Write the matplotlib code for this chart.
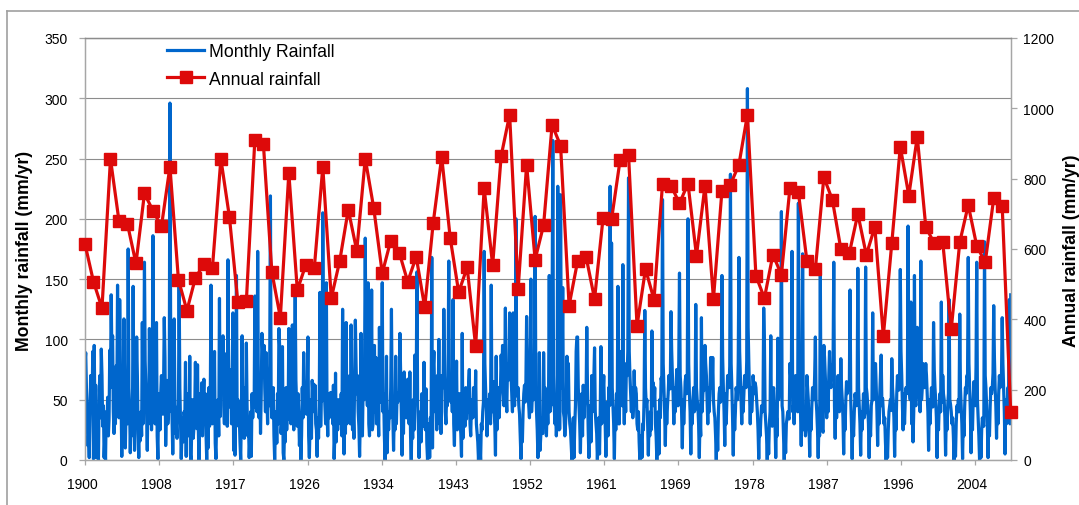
import numpy as np
import matplotlib
matplotlib.use('Agg')
import matplotlib.pyplot as plt
import matplotlib.transforms as mtransforms
from matplotlib.lines import Line2D

plt.rcParams['font.family'] = ['Liberation Sans', 'DejaVu Sans']

# annual totals, 1900..2009 (2009 = January only)
annual_years = list(range(1900, 2010))
annual_rain = [
    614, 507, 432, 856, 680, 671, 559, 758, 709, 664,
    834, 513, 425, 518, 557, 545, 856, 692, 448, 452,
    911, 900, 535, 405, 816, 483, 555, 546, 833, 460,
    567, 712, 595, 857, 716, 531, 624, 590, 507, 578,
    434, 674, 862, 632, 477, 548, 323, 773, 554, 864,
    982, 486, 840, 570, 668, 953, 894, 439, 565, 578,
    458, 688, 684, 852, 868, 382, 543, 456, 785, 780,
    730, 786, 581, 780, 458, 766, 783, 840, 982, 524,
    460, 584, 527, 773, 761, 567, 543, 804, 740, 600,
    588, 700, 583, 663, 352, 617, 891, 752, 919, 663,
    616, 619, 372, 619, 725, 609, 562, 744, 721, 137,
]

# monthly values Jan..Dec, one year per line, from Jan 1900 to Jan 2009
monthly_rain = [
    81, 89, 60, 45, 12, 20, 2, 35, 70, 55, 48, 90,          # 1900
    1, 95, 40, 62, 2, 30, 15, 0, 58, 70, 35, 92,
    70, 28, 45, 2, 18, 0, 40, 25, 52, 20, 34, 91,
    60, 137, 85, 103, 40, 22, 64, 30, 78, 50, 145, 42,
    35, 133, 80, 48, 3, 66, 25, 117, 60, 10, 44, 44,
    30, 175, 60, 45, 6, 38, 20, 28, 144, 55, 8, 50,
    48, 102, 70, 22, 2, 35, 16, 40, 20, 114, 30, 54,
    164, 82, 60, 40, 8, 55, 30, 109, 48, 70, 25, 60,
    186, 70, 44, 30, 62, 114, 20, 1, 55, 40, 25, 55,
    70, 52, 38, 60, 118, 85, 12, 45, 66, 30, 40, 40,
    296, 110, 58, 35, 5, 40, 117, 50, 22, 30, 18, 44,       # 1910
    40, 147, 60, 28, 1, 22, 35, 15, 40, 30, 81, 3,
    55, 30, 48, 20, 86, 4, 0, 36, 50, 18, 28, 40,
    81, 45, 26, 79, 30, 0, 40, 55, 25, 64, 20, 51,
    67, 40, 55, 22, 0, 38, 10, 60, 28, 48, 145, 41,
    30, 62, 48, 90, 14, 1, 35, 22, 50, 20, 134, 36,
    95, 70, 60, 103, 45, 30, 88, 40, 65, 28, 166, 66,
    44, 75, 60, 30, 70, 122, 8, 30, 4, 48, 153, 33,
    50, 28, 36, 15, 0, 40, 103, 22, 60, 18, 30, 41,
    97, 45, 20, 32, 2, 18, 40, 3, 55, 35, 50, 44,
    136, 80, 60, 40, 173, 50, 35, 64, 22, 55, 105, 91,      # 1920
    70, 95, 60, 40, 89, 55, 30, 66, 45, 80, 219, 51,
    35, 48, 60, 20, 0, 25, 40, 14, 55, 30, 109, 95,
    40, 22, 30, 94, 6, 0, 28, 15, 60, 25, 45, 34,
    109, 70, 55, 30, 60, 112, 40, 25, 62, 139, 66, 48,
    28, 55, 40, 12, 30, 0, 20, 60, 35, 89, 50, 62,
    45, 38, 60, 102, 20, 2, 30, 50, 18, 66, 55, 63,
    40, 62, 30, 25, 3, 35, 18, 50, 139, 28, 60, 49,
    205, 90, 60, 45, 30, 147, 40, 20, 55, 35, 50, 56,
    40, 55, 30, 62, 1, 20, 72, 15, 48, 25, 50, 35,
    48, 30, 55, 20, 125, 38, 5, 40, 22, 114, 30, 33,        # 1930
    60, 45, 70, 30, 112, 50, 25, 40, 18, 66, 116, 80,
    55, 70, 40, 28, 3, 35, 105, 44, 20, 62, 50, 76,
    184, 80, 60, 45, 147, 30, 20, 55, 40, 141, 25, 30,
    66, 95, 40, 85, 30, 60, 45, 20, 110, 55, 48, 62,
    147, 40, 55, 20, 0, 30, 86, 6, 35, 25, 40, 35,
    60, 125, 50, 35, 8, 40, 25, 86, 30, 55, 48, 56,
    50, 105, 70, 30, 4, 45, 22, 73, 40, 60, 35, 48,
    67, 40, 30, 73, 20, 0, 35, 18, 50, 25, 87, 57,
    60, 156, 45, 30, 2, 25, 40, 15, 55, 35, 28, 81,
    40, 25, 59, 14, 0, 20, 30, 2, 35, 22, 168, 10,          # 1940
    75, 90, 55, 40, 60, 25, 70, 45, 100, 30, 62, 22,
    70, 70, 60, 125, 80, 40, 30, 55, 45, 70, 165, 52,
    60, 48, 70, 40, 133, 30, 12, 55, 35, 82, 25, 34,
    40, 55, 30, 22, 3, 105, 18, 35, 40, 28, 60, 34,
    55, 40, 62, 75, 30, 20, 45, 50, 35, 60, 38, 38,
    74, 30, 22, 15, 0, 20, 12, 0, 30, 25, 40, 48,
    173, 80, 60, 45, 20, 50, 35, 40, 55, 30, 145, 40,
    50, 65, 40, 30, 4, 86, 25, 45, 60, 35, 48, 58,
    87, 70, 95, 60, 45, 70, 126, 55, 40, 80, 66, 70,
    122, 90, 70, 55, 40, 122, 60, 45, 65, 200, 60, 53,      # 1950
    60, 45, 38, 20, 1, 30, 15, 40, 55, 62, 48, 65,
    119, 80, 60, 45, 35, 70, 150, 40, 55, 60, 50, 76,
    202, 60, 40, 25, 2, 30, 89, 8, 20, 35, 22, 22,
    89, 50, 60, 35, 20, 45, 30, 55, 153, 40, 45, 46,
    120, 265, 70, 45, 30, 40, 20, 35, 227, 50, 25, 26,
    220, 80, 60, 143, 40, 35, 20, 30, 45, 86, 55, 80,
    40, 30, 25, 12, 0, 18, 35, 2, 28, 45, 90, 102,
    102, 60, 45, 30, 6, 40, 55, 20, 62, 35, 48, 53,
    50, 110, 60, 25, 2, 30, 45, 15, 70, 40, 55, 68,
    93, 40, 30, 22, 0, 20, 35, 5, 40, 94, 30, 37,           # 1960
    55, 70, 40, 30, 3, 35, 48, 20, 60, 45, 227, 46,
    180, 60, 45, 30, 1, 40, 25, 55, 35, 144, 30, 30,
    90, 70, 60, 45, 162, 55, 30, 60, 40, 80, 70, 90,
    234, 90, 70, 55, 40, 60, 35, 45, 74, 50, 60, 55,
    30, 25, 40, 15, 0, 10, 20, 2, 30, 25, 52, 124,
    60, 45, 50, 30, 4, 35, 20, 40, 25, 107, 55, 64,
    45, 60, 30, 20, 0, 25, 40, 5, 50, 35, 68, 65,
    216, 80, 60, 40, 12, 50, 30, 45, 55, 70, 60, 59,
    123, 90, 70, 55, 30, 60, 40, 50, 75, 60, 45, 82,
    155, 70, 60, 40, 10, 50, 30, 45, 65, 70, 55, 70,        # 1970
    200, 80, 55, 40, 5, 45, 30, 50, 60, 40, 42, 129,
    60, 50, 45, 30, 2, 35, 20, 118, 40, 55, 60, 58,
    95, 80, 70, 50, 30, 60, 40, 55, 85, 70, 60, 85,
    50, 40, 35, 20, 0, 30, 8, 40, 55, 60, 48, 60,
    153, 85, 60, 40, 12, 55, 30, 50, 70, 65, 60, 78,
    237, 80, 60, 35, 4, 45, 25, 40, 60, 55, 50, 81,
    168, 90, 70, 50, 30, 60, 40, 55, 70, 65, 60, 82,
    308, 110, 80, 55, 30, 60, 40, 50, 70, 60, 55, 64,
    60, 50, 40, 25, 1, 30, 20, 35, 45, 40, 45, 126,
    97, 40, 30, 20, 0, 25, 5, 30, 40, 103, 30, 28,          # 1980
    55, 60, 45, 30, 2, 35, 20, 101, 50, 60, 55, 63,
    206, 45, 40, 20, 0, 25, 6, 30, 35, 40, 35, 34,
    80, 70, 60, 173, 40, 45, 30, 50, 70, 55, 60, 40,
    213, 80, 55, 40, 12, 45, 171, 30, 25, 35, 20, 27,
    70, 60, 50, 30, 3, 40, 25, 45, 60, 55, 50, 70,
    102, 50, 40, 25, 2, 30, 20, 153, 35, 30, 25, 23,
    95, 85, 70, 55, 35, 60, 40, 70, 90, 65, 60, 79,
    70, 80, 164, 45, 18, 55, 35, 50, 70, 50, 40, 56,
    84, 60, 50, 35, 5, 40, 25, 50, 65, 55, 60, 61,
    60, 141, 50, 30, 1, 35, 20, 40, 55, 50, 45, 52,         # 1990
    159, 60, 45, 30, 4, 40, 25, 40, 55, 35, 39, 160,
    60, 55, 45, 30, 2, 35, 20, 45, 50, 122, 50, 61,
    75, 80, 60, 40, 12, 50, 30, 55, 70, 87, 45, 51,
    40, 30, 35, 15, 0, 20, 2, 25, 40, 45, 50, 41,
    84, 60, 50, 35, 3, 40, 25, 55, 70, 60, 58, 68,
    158, 90, 70, 45, 25, 55, 30, 50, 60, 55, 60, 194,
    70, 60, 50, 131, 30, 45, 15, 40, 153, 50, 45, 53,
    110, 90, 70, 60, 40, 165, 50, 60, 80, 65, 60, 69,
    80, 70, 55, 40, 8, 50, 30, 45, 60, 55, 44, 114,
    75, 60, 50, 35, 2, 40, 25, 45, 55, 40, 131, 48,         # 2000
    70, 55, 50, 35, 4, 40, 25, 45, 55, 133, 50, 46,
    40, 30, 35, 20, 0, 25, 3, 30, 45, 40, 50, 40,
    121, 60, 45, 30, 1, 35, 20, 45, 60, 55, 70, 68,
    168, 80, 60, 40, 6, 45, 25, 50, 65, 55, 45, 77,
    164, 50, 35, 20, 0, 25, 2, 25, 35, 30, 28, 181,
    70, 60, 45, 30, 2, 35, 20, 45, 60, 55, 60, 72,
    128, 85, 60, 45, 18, 50, 30, 55, 70, 60, 65, 71,
    118, 80, 60, 40, 5, 50, 30, 45, 60, 55, 133, 30,
    137,                                                    # Jan 2009
]

tick_labels = ['1900', '1908', '1917', '1926', '1934', '1943', '1952',
               '1961', '1969', '1978', '1987', '1996', '2004']
left_ticks = [0, 50, 100, 150, 200, 250, 300, 350]
right_ticks = [0, 200, 400, 600, 800, 1000, 1200]

x_month = 1900 + np.arange(len(monthly_rain)) / 12.0
x_ticks = 1900 + 8.735 * np.arange(len(tick_labels))

W, H = 1079, 506
fig = plt.figure(figsize=(W / 100, H / 100), dpi=100)
ax = fig.add_axes([85 / W, 45 / H, 925.7 / W, 422 / H])
ax2 = ax.twinx()

blue = '#0066CC'
red = '#DD0A0A'
axis_grey = '#A6A6A6'
grid_grey = '#8C8C8C'

l1, = ax.plot(x_month, monthly_rain, color=blue, lw=2.3, label='Monthly Rainfall')
l2, = ax2.plot(annual_years, annual_rain, color=red, lw=2.3, marker='s',
               markersize=8, markeredgecolor=red, label='Annual rainfall',
               clip_on=False, zorder=5)

ax.set_xlim(1900, 2009)
ax.set_ylim(0, 350)
ax2.set_ylim(0, 1200)
ax.set_yticks(left_ticks)
ax2.set_yticks(right_ticks)
ax.set_xticks(x_ticks)
ax.set_xticklabels(tick_labels)

ax.set_axisbelow(True)
ax.yaxis.grid(True, color=grid_grey, lw=0.8)
ax.xaxis.grid(False)

for a in (ax, ax2):
    for s in a.spines.values():
        s.set_color(axis_grey)
        s.set_linewidth(0.9)
    a.spines['top'].set_color(grid_grey)
ax.tick_params(axis='y', direction='out', length=4, width=0.9, color=axis_grey,
               labelsize=10, pad=8.5)
ax.tick_params(axis='x', direction='out', length=3.5, width=0.9, color=axis_grey,
               labelsize=10, pad=9)
ax2.tick_params(axis='y', direction='out', length=4.5, width=0.9, color=axis_grey,
                labelsize=10, pad=4.5)

# excel puts the year labels a bit left of the tick
shift = mtransforms.ScaledTranslation(-3 / 100, 0, fig.dpi_scale_trans)
for lab in ax.get_xticklabels():
    lab.set_transform(lab.get_transform() + shift)

fig.text(25 / W, 1 - 251 / H, 'Monthly rainfall (mm/yr)', rotation=90,
         ha='center', va='center', fontsize=12.7, fontweight='bold')
fig.text(1072 / W, 1 - 251 / H, 'Annual rainfall (mm/yr)', rotation=90,
         ha='center', va='center', fontsize=12.7, fontweight='bold')

fig.legend(handles=[l1, l2], loc='upper left', bbox_to_anchor=(167 / W, 1 - 44 / H),
           frameon=False, fontsize=12.7, handlelength=2.1, handletextpad=0.3,
           labelspacing=0.6, borderpad=0, borderaxespad=0)

# chart area border (only top and left edges are inside the picture)
fig.add_artist(Line2D([7 / W, 1], [1 - 12 / H, 1 - 12 / H], color='#A0A0A0', lw=1.2))
fig.add_artist(Line2D([7 / W, 7 / W], [0, 1 - 12 / H], color='#A0A0A0', lw=1.2))

fig.savefig('out.png', dpi=100)
